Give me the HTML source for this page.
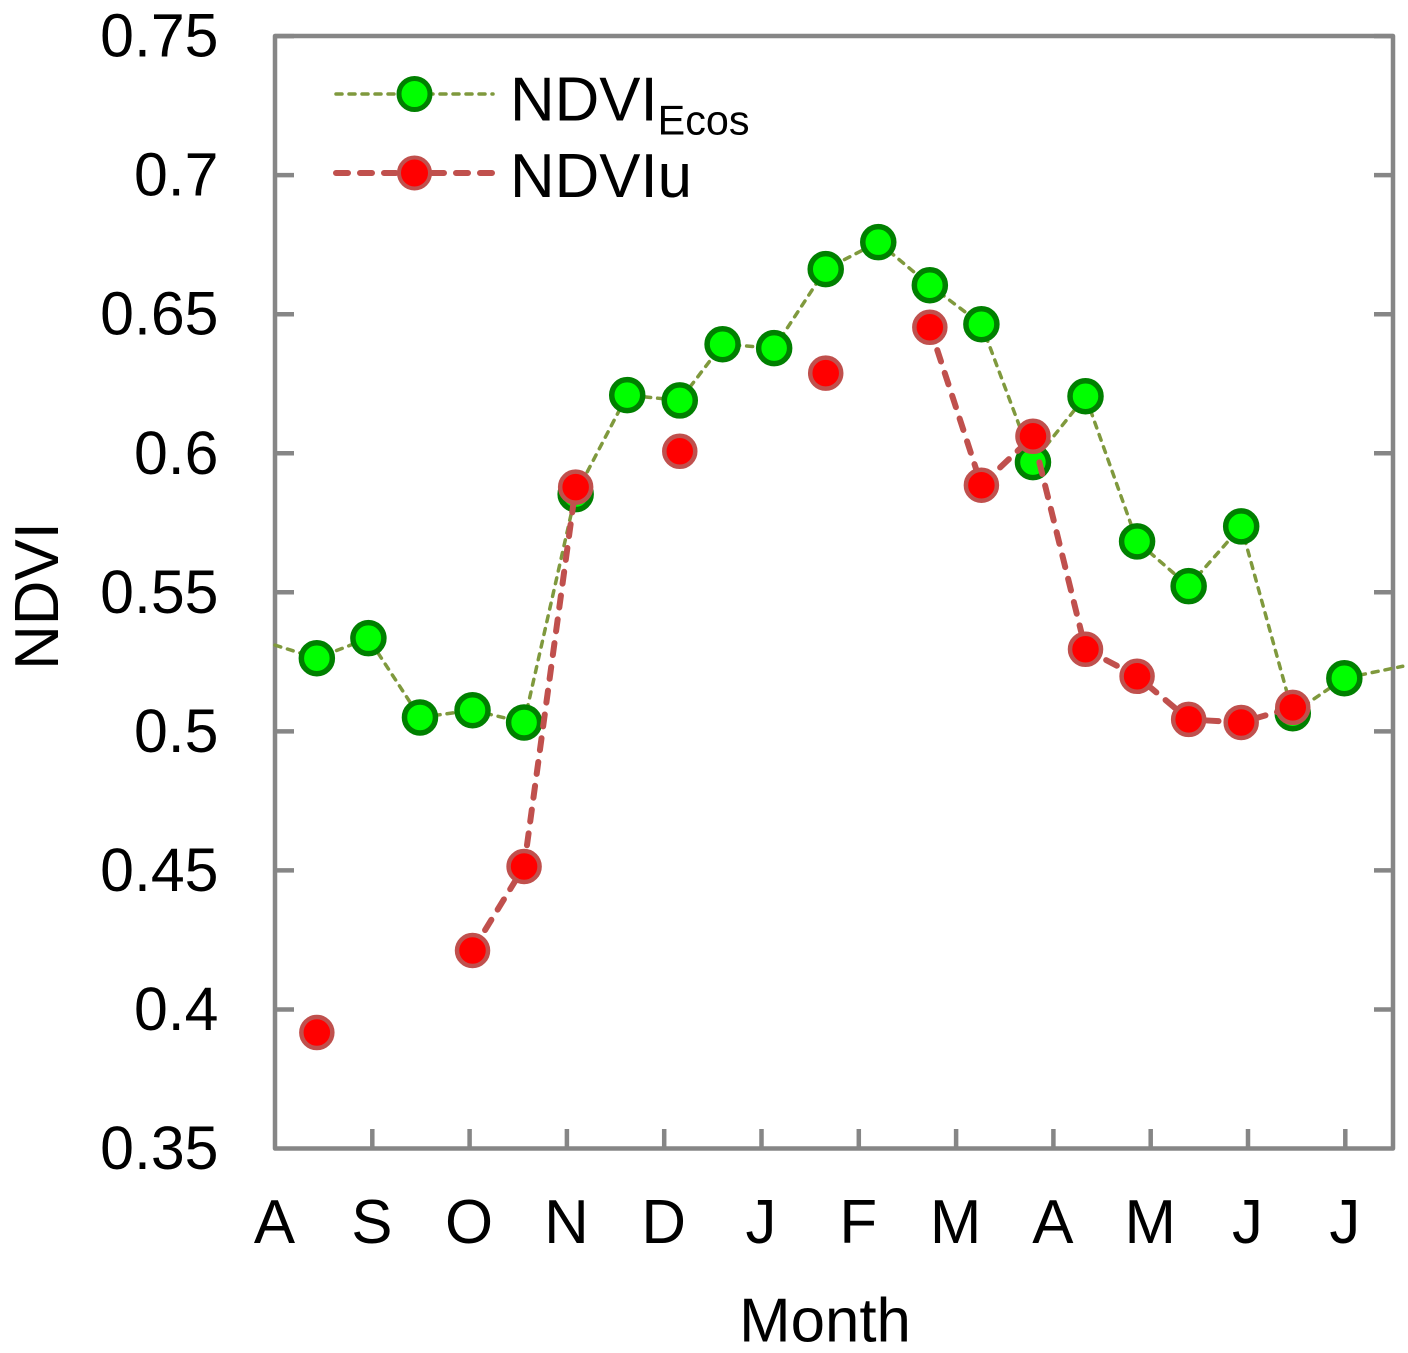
<!DOCTYPE html>
<html lang="en">
<head>
<meta charset="utf-8">
<title>NDVI by month</title>
<style>
html,body{margin:0;padding:0;background:#fff;width:1408px;height:1353px;overflow:hidden}
svg{display:block}
text{font-family:"Liberation Sans",Arial,sans-serif;fill:#000;font-size:61.8px}
</style>
</head>
<body>
<svg id="chart" xmlns="http://www.w3.org/2000/svg" width="1408" height="1353" viewBox="0 0 1408 1353">
  <rect x="0" y="0" width="1408" height="1353" fill="#fff"/>
  <rect x="275" y="36" width="1118" height="1112.5" fill="none" stroke="#868686" stroke-width="4.5" stroke-linejoin="round"/>
  <g id="axes"></g>
  <g id="series"></g>
  <text x="825" y="1341.5" text-anchor="middle">Month</text>
  <text x="0" y="0" text-anchor="middle" transform="translate(58 596) rotate(-90)">NDVI</text>
  <g>
    <g>
      <line x1="336" y1="94" x2="493" y2="94" stroke="#7f993d" stroke-width="3.5" stroke-dasharray="6 7" stroke-linecap="round"/>
      <circle cx="414.5" cy="94" r="15.5" fill="#00ff00" stroke="#008000" stroke-width="5"/>
      <text x="510" y="120.5">NDVI<tspan dy="14" style="font-size:41.3px">Ecos</tspan></text>
    </g>
    <g>
      <line x1="336" y1="173" x2="493" y2="173" stroke="#c0504d" stroke-width="6" stroke-dasharray="12 12" stroke-linecap="round"/>
      <circle cx="414.5" cy="173" r="15.5" fill="#ff0000" stroke="#c0504d" stroke-width="4"/>
      <text x="510" y="197">NDVIu</text>
    </g>
  </g>
</svg>
<script>
const monthLabels = ['A','S','O','N','D','J','F','M','A','M','J','J'];
const yTickValues = [0.35,0.4,0.45,0.5,0.55,0.6,0.65,0.7,0.75];
const yTickLabels = ['0.35','0.4','0.45','0.5','0.55','0.6','0.65','0.7','0.75'];
const sampleMonths = [0.43,0.96,1.49,2.03,2.56,3.09,3.62,4.16,4.60,5.13,5.66,6.20,6.73,7.26,7.79,8.33,8.86,9.39,9.93,10.46,10.99];
const ndviEcos = [0.5263,0.5335,0.505,0.5076,0.5032,0.5853,0.6209,0.619,0.6392,0.6378,0.6662,0.6759,0.6604,0.6464,0.5968,0.6205,0.5683,0.5522,0.5737,0.5065,0.5191];
const ndviLu = [0.3917,null,null,0.4212,0.4514,0.5878,null,0.6007,null,null,0.6288,null,0.6453,0.5885,0.6061,0.5295,0.5198,0.5043,0.5032,0.5086,null];
const ecosLeadIn = [0.0,0.531];
const ecosLeadOut = [11.59,0.5234];

const NS = 'http://www.w3.org/2000/svg';
const xScale = m => 275 + m * 97.3;
const yScale = v => 1148.5 - (v - 0.35) * 2781;
const axes = document.getElementById('axes');
const series = document.getElementById('series');

function make(tag, parent, attrs, text) {
  const el = document.createElementNS(NS, tag);
  Object.keys(attrs).forEach(k => el.setAttribute(k, attrs[k]));
  if (text !== undefined) el.textContent = text;
  parent.appendChild(el);
  return el;
}

const tickStyle = {stroke:'#868686','stroke-width':4.5};

yTickValues.forEach((v, i) => {
  const y = yScale(v);
  if (i > 0) {
    const left = make('line', axes, Object.assign({x1:275,x2:294,y1:y,y2:y}, tickStyle));
    
    
    const right = make('line', axes, Object.assign({x1:1374,x2:1393,y1:y,y2:y}, tickStyle));
    
    
  }
  const label = make('text', axes, {x:218.5,y:y + 20.5,'text-anchor':'end',style:'font-size:60.8px'}, yTickLabels[i]);
  
  
});

monthLabels.forEach((name, i) => {
  const x = xScale(i);
  if (i > 0) {
    const tick = make('line', axes, Object.assign({x1:x,x2:x,y1:1129,y2:1148.5}, tickStyle));
    
    
  }
  const label = make('text', axes, {x:x - 0.5,y:1243,'text-anchor':'middle'}, name);
  
  
});

const ecosPts = [[xScale(ecosLeadIn[0]), yScale(ecosLeadIn[1])]]
  .concat(sampleMonths.map((m, i) => [xScale(m), yScale(ndviEcos[i])]))
  .concat([[xScale(ecosLeadOut[0]), yScale(ecosLeadOut[1])]]);
const ecosLine = make('polyline', series, {
  points: ecosPts.map(p => p.join(',')).join(' '),
  fill: 'none', stroke: '#7f993d', 'stroke-width': 3.5,
  'stroke-dasharray': '6 7', 'stroke-linecap': 'round', 'stroke-linejoin': 'round'
});



ndviEcos.forEach((v, i) => {
  const c = make('circle', series, {cx:xScale(sampleMonths[i]),cy:yScale(v),r:15.5,fill:'#00ff00',stroke:'#008000','stroke-width':5.5});
  
  
});

let run = [];
const flushRun = () => {
  if (run.length > 1) {
    const l = make('polyline', series, {
      points: run.map(p => p.join(',')).join(' '),
      fill: 'none', stroke: '#c0504d', 'stroke-width': 6,
      'stroke-dasharray': '12 12', 'stroke-linecap': 'round', 'stroke-linejoin': 'round'
    });
    
    
  }
  run = [];
};
ndviLu.forEach((v, i) => {
  if (v === null) { flushRun(); return; }
  run.push([xScale(sampleMonths[i]), yScale(v)]);
});
flushRun();

ndviLu.forEach((v, i) => {
  if (v === null) return;
  const c = make('circle', series, {cx:xScale(sampleMonths[i]),cy:yScale(v),r:15.5,fill:'#ff0000',stroke:'#c0504d','stroke-width':4.5});
  
  
});
</script>
</body>
</html>
